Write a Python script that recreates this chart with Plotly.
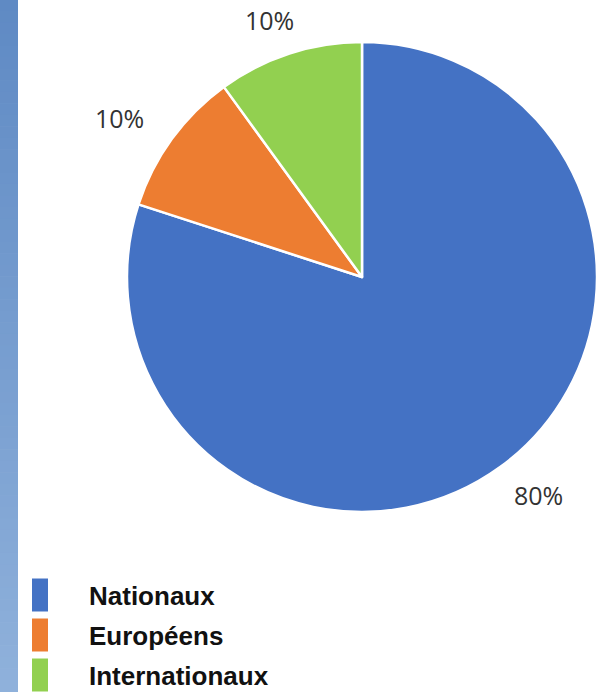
import math
import plotly.graph_objects as go

# ---- data ----
categories = ["Nationaux", "Européens", "Internationaux"]
values = [80, 10, 10]
colors = ["#4472C4", "#ED7D31", "#92D050"]

W, H = 603, 692
# pie geometry (pixels)
CX, CY, R = 362, 277, 235
LAB_RX, LAB_RY = 300, 270

fig = go.Figure()
fig.add_trace(go.Pie(
    labels=categories, values=values, sort=False, direction="clockwise", rotation=0,
    marker=dict(colors=colors, line=dict(color="white", width=2.5)),
    textinfo="none", hoverinfo="label+percent", showlegend=False,
    domain=dict(x=[(CX - R) / W, (CX + R) / W], y=[(H - CY - R) / H, (H - CY + R) / H]),
))

shapes = []
annotations = []

# percentage labels computed from the data
total = sum(values)
cum = 0
for v in values:
    mid = (cum + v / 2) / total * 2 * math.pi
    cum += v
    px = CX + LAB_RX * math.sin(mid)
    py = CY - LAB_RY * math.cos(mid)
    annotations.append(dict(
        x=px / W, y=1 - py / H, xref="paper", yref="paper",
        text=f"{round(v / total * 100)}%", showarrow=False,
        font=dict(family="Open Sans", size=25, color="#333333"),
        xanchor="center", yanchor="middle",
    ))

# left gradient strip
n_bands = 60
top_c = (95, 138, 196)
bot_c = (143, 177, 219)
for i in range(n_bands):
    t = i / (n_bands - 1)
    c = tuple(round(top_c[k] + (bot_c[k] - top_c[k]) * t) for k in range(3))
    shapes.append(dict(
        type="rect", xref="paper", yref="paper",
        x0=0, x1=18 / W, y0=1 - (i + 1) / n_bands, y1=1 - i / n_bands + 0.001,
        fillcolor=f"rgb{c}", line=dict(width=0), layer="below",
    ))

# custom legend
LEG_Y0, LEG_DY = 595, 40
for i, (name, col) in enumerate(zip(categories, colors)):
    yc = LEG_Y0 + LEG_DY * i
    shapes.append(dict(
        type="rect", xref="paper", yref="paper",
        x0=32 / W, x1=48 / W, y0=1 - (yc + 16.5) / H, y1=1 - (yc - 16.5) / H,
        fillcolor=col, line=dict(width=0),
    ))
    annotations.append(dict(
        x=87 / W, y=1 - (yc + 1) / H, xref="paper", yref="paper",
        text=name, showarrow=False,
        font=dict(family="Liberation Sans", size=26, color="#111111", weight="bold"),
        xanchor="left", yanchor="middle",
    ))

fig.update_layout(
    width=W, height=H,
    margin=dict(l=0, r=0, t=0, b=0),
    paper_bgcolor="white", plot_bgcolor="white",
    shapes=shapes, annotations=annotations,
)

fig.write_html(
    "out.html",
    config={"displayModeBar": False},
    post_script="document.body.style.margin='0';document.body.style.padding='0';"
                "document.body.style.overflow='hidden';",
)
